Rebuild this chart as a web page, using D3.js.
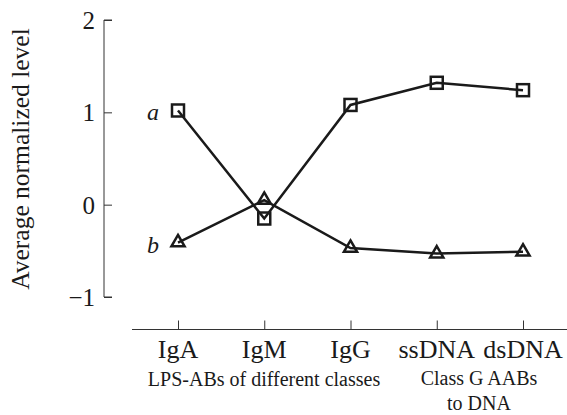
<!DOCTYPE html>
<html>
<head>
<meta charset="utf-8">
<script src="https://cdn.jsdelivr.net/npm/d3@7"></script>
<style>
  body { margin: 0; background: #fff; }
  svg { display: block; }
  svg text { font-family: "Liberation Serif", "Times New Roman", serif; }
</style>
</head>
<body>
<script>
const categories = ["IgA", "IgM", "IgG", "ssDNA", "dsDNA"];
const seriesA = [1.02, -0.15, 1.08, 1.32, 1.24];
const seriesB = [-0.41, 0.05, -0.47, -0.53, -0.51];
const yTicks = [-1, 0, 1, 2];

const width = 567, height = 415;
const ink = "#1a1a1a";

const svg = d3.select("body").append("svg")
    .attr("width", width)
    .attr("height", height);

const x = d3.scalePoint()
    .domain(categories)
    .range([178, 523]);

const y = d3.scaleLinear()
    .domain([-1, 2])
    .range([297, 20]);

// y axis, ticks point inward
const yAxis = svg.append("g")
    .attr("transform", "translate(104,0)")
    .call(d3.axisRight(y).tickValues(yTicks).tickSize(8).tickFormat(d => d < 0 ? "\u2212" + Math.abs(d) : d));
yAxis.select(".domain").attr("stroke", "#333").attr("d", `M8,${y(2)}H0V${y(-1)}H8`);
yAxis.selectAll(".tick line").attr("stroke", "#333");
yAxis.selectAll(".tick text")
    .attr("x", -9)
    .attr("dy", "0.34em")
    .attr("text-anchor", "end")
    .attr("fill", ink)
    .style("font-size", "25px");

// x axis, ticks point up
const xAxis = svg.append("g")
    .attr("transform", "translate(0,329.5)")
    .call(d3.axisTop(x).tickSize(9).tickSizeOuter(0));
xAxis.select(".domain").attr("stroke", "#333").attr("d", `M132,0H567`);
xAxis.selectAll(".tick line").attr("stroke", "#333");
xAxis.selectAll(".tick text").remove();

svg.selectAll(".cat")
    .data(categories)
    .enter()
    .append("text")
    .attr("class", "cat")
    .attr("x", d => x(d))
    .attr("y", 358)
    .attr("text-anchor", "middle")
    .attr("fill", ink)
    .style("font-size", "26px")
    .text(d => d);

const groupLabels = ["LPS-ABs of different classes", "Class G AABs", "to DNA"];
const groupX = [264, 479, 479];
const groupY = [386, 385, 410];
svg.selectAll(".grp")
    .data(groupLabels)
    .enter()
    .append("text")
    .attr("class", "grp")
    .attr("x", (d, i) => groupX[i])
    .attr("y", (d, i) => groupY[i])
    .attr("text-anchor", "middle")
    .attr("fill", ink)
    .style("font-size", "20px")
    .text(d => d);

// y label
svg.append("text")
    .attr("transform", "translate(29,159) rotate(-90)")
    .attr("text-anchor", "middle")
    .attr("fill", ink)
    .style("font-size", "25.5px")
    .text("Average normalized level");

const line = d3.line()
    .x((d, i) => x(categories[i]))
    .y(d => y(d));

[seriesA, seriesB].forEach(s => {
    svg.append("path")
        .datum(s)
        .attr("d", line)
        .attr("fill", "none")
        .attr("stroke", ink)
        .attr("stroke-width", 2.5);
});

svg.selectAll(".sq")
    .data(seriesA)
    .enter()
    .append("rect")
    .attr("x", (d, i) => x(categories[i]) - 6)
    .attr("y", d => y(d) - 6)
    .attr("width", 12)
    .attr("height", 12)
    .attr("fill", "none")
    .attr("stroke", ink)
    .attr("stroke-width", 2.5);

const tri = d3.symbol().type(d3.symbolTriangle).size(75);
svg.selectAll(".tri")
    .data(seriesB)
    .enter()
    .append("path")
    .attr("d", tri)
    .attr("transform", (d, i) => `translate(${x(categories[i])},${y(d)})`)
    .attr("fill", "none")
    .attr("stroke", ink)
    .attr("stroke-width", 2.5);

// series labels
const seriesNames = ["a", "b"];
const nameY = [120, 253];
svg.selectAll(".sname")
    .data(seriesNames)
    .enter()
    .append("text")
    .attr("class", "sname")
    .attr("x", 153)
    .attr("y", (d, i) => nameY[i])
    .attr("text-anchor", "middle")
    .style("font-style", "italic")
    .style("font-size", "24px")
    .attr("fill", ink)
    .text(d => d);
</script>
</body>
</html>
